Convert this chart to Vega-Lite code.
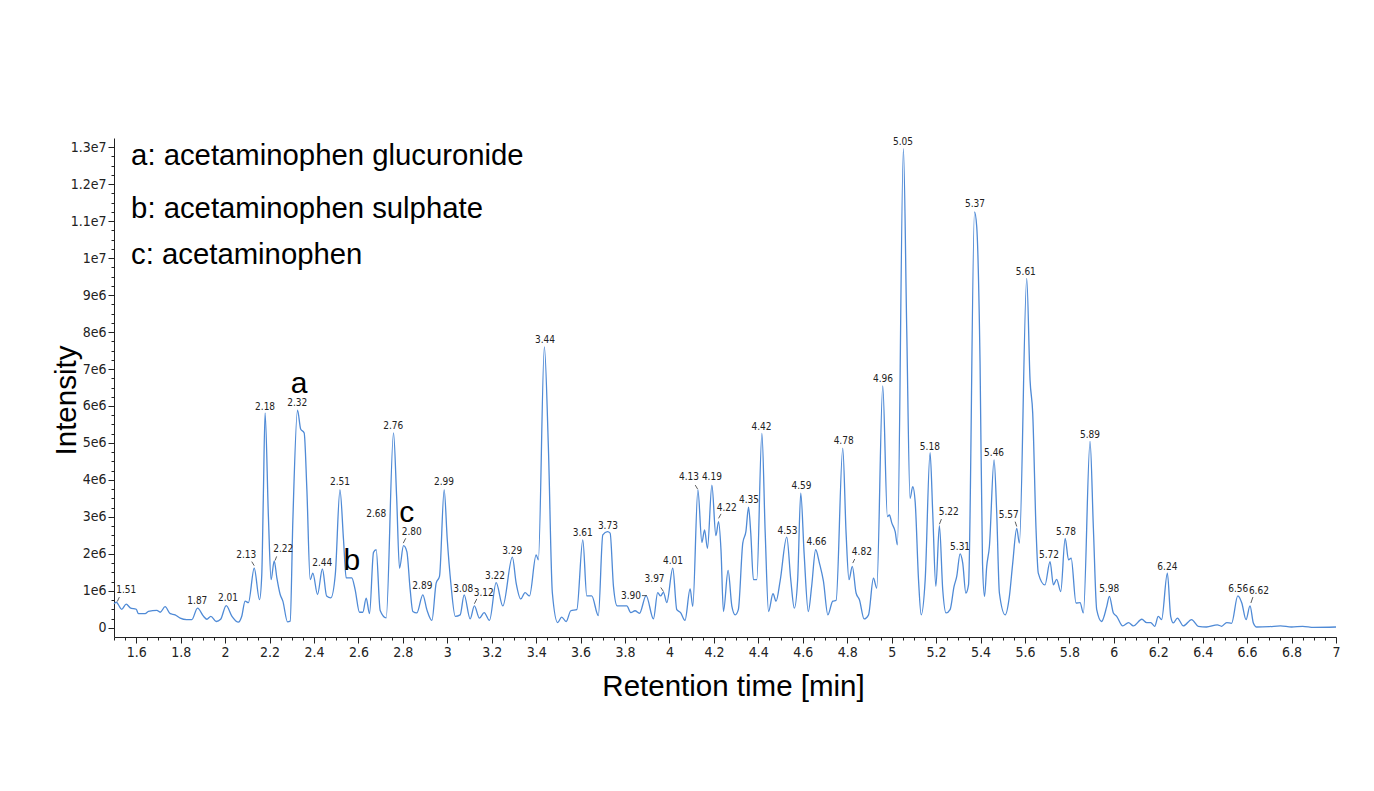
{
  "$schema": "https://vega.github.io/schema/vega-lite/v6.json",
  "width": 1222,
  "height": 499,
  "autosize": {"type": "none"},
  "padding": {"left": 114, "top": 138, "right": 38, "bottom": 154},
  "background": "white",
  "config": {"view": {"stroke": null}},
  "resolve": {"axis": {"x": "independent", "y": "independent"}},
  "datasets": {
    "trace": [
      {"t":1.5,"v":0.65e6},{"t":1.51,"v":0.69e6},{"t":1.535,"v":0.50e6},{"t":1.555,"v":0.64e6},{"t":1.573,"v":0.54e6},{"t":1.6,"v":0.50e6},{"t":1.61,"v":0.38e6},{"t":1.64,"v":0.38e6},{"t":1.655,"v":0.44e6},{"t":1.693,"v":0.47e6},{"t":1.708,"v":0.42e6},{"t":1.73,"v":0.57e6},{"t":1.753,"v":0.38e6},{"t":1.775,"v":0.35e6},{"t":1.798,"v":0.26e6},{"t":1.827,"v":0.22e6},{"t":1.85,"v":0.22e6},{"t":1.876,"v":0.53e6},{"t":1.903,"v":0.31e6},{"t":1.918,"v":0.23e6},{"t":1.936,"v":0.31e6},{"t":1.96,"v":0.17e6},{"t":1.98,"v":0.23e6},{"t":2.005,"v":0.60e6},{"t":2.031,"v":0.31e6},{"t":2.06,"v":0.15e6},{"t":2.075,"v":0.31e6},{"t":2.09,"v":0.72e6},{"t":2.105,"v":0.68e6},{"t":2.131,"v":1.61e6},{"t":2.155,"v":0.76e6},{"t":2.165,"v":1.42e6},{"t":2.172,"v":3.5e6},{"t":2.18,"v":5.81e6},{"t":2.195,"v":3.0e6},{"t":2.207,"v":1.30e6},{"t":2.221,"v":1.81e6},{"t":2.233,"v":1.35e6},{"t":2.248,"v":0.90e6},{"t":2.26,"v":0.72e6},{"t":2.281,"v":0.16e6},{"t":2.293,"v":0.18e6},{"t":2.305,"v":2.9e6},{"t":2.326,"v":5.89e6},{"t":2.34,"v":5.38e6},{"t":2.356,"v":5.27e6},{"t":2.368,"v":3.75e6},{"t":2.383,"v":1.3e6},{"t":2.395,"v":1.48e6},{"t":2.416,"v":0.90e6},{"t":2.438,"v":1.59e6},{"t":2.457,"v":0.86e6},{"t":2.476,"v":0.81e6},{"t":2.496,"v":1.44e6},{"t":2.517,"v":3.73e6},{"t":2.533,"v":2.38e6},{"t":2.545,"v":1.35e6},{"t":2.57,"v":1.35e6},{"t":2.585,"v":1.04e6},{"t":2.605,"v":0.42e6},{"t":2.62,"v":0.42e6},{"t":2.635,"v":0.80e6},{"t":2.65,"v":0.38e6},{"t":2.668,"v":2.04e6},{"t":2.68,"v":2.11e6},{"t":2.698,"v":0.47e6},{"t":2.725,"v":0.27e6},{"t":2.758,"v":5.27e6},{"t":2.772,"v":3.55e6},{"t":2.785,"v":1.61e6},{"t":2.803,"v":2.22e6},{"t":2.818,"v":2.06e6},{"t":2.833,"v":1.03e6},{"t":2.845,"v":0.44e6},{"t":2.863,"v":0.40e6},{"t":2.89,"v":0.89e6},{"t":2.908,"v":0.49e6},{"t":2.931,"v":0.20e6},{"t":2.95,"v":1.21e6},{"t":2.965,"v":1.39e6},{"t":2.986,"v":3.73e6},{"t":3.0,"v":2.38e6},{"t":3.016,"v":1.21e6},{"t":3.036,"v":0.31e6},{"t":3.058,"v":0.35e6},{"t":3.076,"v":0.89e6},{"t":3.103,"v":0.24e6},{"t":3.122,"v":0.59e6},{"t":3.145,"v":0.26e6},{"t":3.166,"v":0.41e6},{"t":3.19,"v":0.20e6},{"t":3.22,"v":1.22e6},{"t":3.25,"v":0.59e6},{"t":3.293,"v":1.91e6},{"t":3.31,"v":1.21e6},{"t":3.331,"v":0.78e6},{"t":3.35,"v":0.95e6},{"t":3.37,"v":0.86e6},{"t":3.4,"v":1.97e6},{"t":3.41,"v":1.84e6},{"t":3.437,"v":7.6e6},{"t":3.455,"v":4.9e6},{"t":3.473,"v":0.94e6},{"t":3.497,"v":0.14e6},{"t":3.515,"v":0.29e6},{"t":3.535,"v":0.17e6},{"t":3.556,"v":0.46e6},{"t":3.583,"v":0.49e6},{"t":3.61,"v":2.38e6},{"t":3.628,"v":0.86e6},{"t":3.65,"v":0.86e6},{"t":3.68,"v":0.33e6},{"t":3.7,"v":2.51e6},{"t":3.721,"v":2.60e6},{"t":3.733,"v":2.56e6},{"t":3.748,"v":1.12e6},{"t":3.765,"v":0.59e6},{"t":3.808,"v":0.59e6},{"t":3.826,"v":0.41e6},{"t":3.845,"v":0.46e6},{"t":3.865,"v":0.39e6},{"t":3.895,"v":0.87e6},{"t":3.928,"v":0.24e6},{"t":3.947,"v":0.95e6},{"t":3.96,"v":0.86e6},{"t":3.973,"v":0.96e6},{"t":3.988,"v":0.68e6},{"t":4.015,"v":1.61e6},{"t":4.033,"v":0.49e6},{"t":4.05,"v":0.41e6},{"t":4.07,"v":0.20e6},{"t":4.093,"v":1.05e6},{"t":4.105,"v":0.58e6},{"t":4.128,"v":3.73e6},{"t":4.146,"v":2.31e6},{"t":4.158,"v":2.65e6},{"t":4.171,"v":2.15e6},{"t":4.191,"v":3.86e6},{"t":4.209,"v":2.49e6},{"t":4.221,"v":2.87e6},{"t":4.232,"v":2.1e6},{"t":4.243,"v":0.44e6},{"t":4.264,"v":1.55e6},{"t":4.281,"v":0.58e6},{"t":4.296,"v":0.35e6},{"t":4.31,"v":0.49e6},{"t":4.33,"v":2.29e6},{"t":4.344,"v":2.6e6},{"t":4.356,"v":3.26e6},{"t":4.366,"v":2.56e6},{"t":4.378,"v":1.30e6},{"t":4.393,"v":1.30e6},{"t":4.416,"v":5.26e6},{"t":4.431,"v":2.56e6},{"t":4.446,"v":0.44e6},{"t":4.466,"v":0.92e6},{"t":4.48,"v":0.72e6},{"t":4.498,"v":1.26e6},{"t":4.528,"v":2.45e6},{"t":4.546,"v":1.3e6},{"t":4.562,"v":0.53e6},{"t":4.577,"v":1.3e6},{"t":4.591,"v":3.64e6},{"t":4.606,"v":2.02e6},{"t":4.625,"v":0.44e6},{"t":4.64,"v":1.12e6},{"t":4.658,"v":2.11e6},{"t":4.675,"v":1.75e6},{"t":4.693,"v":1.26e6},{"t":4.713,"v":0.35e6},{"t":4.735,"v":0.72e6},{"t":4.75,"v":0.74e6},{"t":4.78,"v":4.86e6},{"t":4.795,"v":2.56e6},{"t":4.808,"v":1.30e6},{"t":4.823,"v":1.66e6},{"t":4.84,"v":0.94e6},{"t":4.855,"v":0.76e6},{"t":4.876,"v":0.24e6},{"t":4.896,"v":0.35e6},{"t":4.918,"v":1.34e6},{"t":4.933,"v":1.07e6},{"t":4.96,"v":6.54e6},{"t":4.981,"v":3.01e6},{"t":4.99,"v":3.05e6},{"t":5.001,"v":2.83e6},{"t":5.016,"v":2.6e6},{"t":5.026,"v":2.24e6},{"t":5.053,"v":12.96e6},{"t":5.068,"v":8.05e6},{"t":5.083,"v":3.5e6},{"t":5.095,"v":3.82e6},{"t":5.106,"v":3.4e6},{"t":5.121,"v":1.30e6},{"t":5.133,"v":0.35e6},{"t":5.151,"v":1.30e6},{"t":5.173,"v":4.74e6},{"t":5.185,"v":3.1e6},{"t":5.199,"v":1.12e6},{"t":5.215,"v":2.76e6},{"t":5.23,"v":1.03e6},{"t":5.245,"v":0.40e6},{"t":5.263,"v":0.49e6},{"t":5.281,"v":1.12e6},{"t":5.293,"v":1.39e6},{"t":5.308,"v":2.0e6},{"t":5.32,"v":1.75e6},{"t":5.334,"v":0.94e6},{"t":5.346,"v":1.16e6},{"t":5.373,"v":11.25e6},{"t":5.383,"v":10.85e6},{"t":5.398,"v":7.15e6},{"t":5.409,"v":1.75e6},{"t":5.418,"v":0.85e6},{"t":5.428,"v":1.66e6},{"t":5.44,"v":2.2e6},{"t":5.461,"v":4.54e6},{"t":5.473,"v":3.1e6},{"t":5.485,"v":0.94e6},{"t":5.511,"v":0.35e6},{"t":5.53,"v":0.85e6},{"t":5.545,"v":1.75e6},{"t":5.563,"v":2.69e6},{"t":5.575,"v":2.29e6},{"t":5.608,"v":9.45e6},{"t":5.623,"v":6.7e6},{"t":5.635,"v":5.8e6},{"t":5.65,"v":2.65e6},{"t":5.66,"v":1.48e6},{"t":5.69,"v":1.16e6},{"t":5.713,"v":1.79e6},{"t":5.728,"v":1.16e6},{"t":5.743,"v":1.31e6},{"t":5.761,"v":0.98e6},{"t":5.781,"v":2.42e6},{"t":5.796,"v":1.84e6},{"t":5.808,"v":1.88e6},{"t":5.83,"v":0.67e6},{"t":5.848,"v":0.68e6},{"t":5.863,"v":0.40e6},{"t":5.893,"v":5.04e6},{"t":5.908,"v":2.7e6},{"t":5.923,"v":0.49e6},{"t":5.945,"v":0.17e6},{"t":5.968,"v":0.57e6},{"t":5.98,"v":0.85e6},{"t":5.998,"v":0.40e6},{"t":6.013,"v":0.31e6},{"t":6.04,"v":0.05e6},{"t":6.066,"v":0.14e6},{"t":6.088,"v":0.05e6},{"t":6.126,"v":0.23e6},{"t":6.148,"v":0.14e6},{"t":6.166,"v":0.14e6},{"t":6.184,"v":0.04e6},{"t":6.2,"v":0.31e6},{"t":6.215,"v":0.22e6},{"t":6.241,"v":1.48e6},{"t":6.256,"v":0.31e6},{"t":6.268,"v":0.13e6},{"t":6.286,"v":0.26e6},{"t":6.313,"v":0.05e6},{"t":6.35,"v":0.22e6},{"t":6.38,"v":0.04e6},{"t":6.417,"v":0.02e6},{"t":6.466,"v":0.08e6},{"t":6.485,"v":0.04e6},{"t":6.508,"v":0.14e6},{"t":6.53,"v":0.12e6},{"t":6.558,"v":0.86e6},{"t":6.576,"v":0.67e6},{"t":6.595,"v":0.22e6},{"t":6.613,"v":0.59e6},{"t":6.628,"v":0.13e6},{"t":6.643,"v":0.02e6},{"t":6.7,"v":0.03e6},{"t":6.75,"v":0.05e6},{"t":6.8,"v":0.02e6},{"t":6.85,"v":0.04e6},{"t":6.9,"v":0.01e6},{"t":7.0,"v":0.02e6}
    ],
    "peaks": [
      {"label":"1.51","lt":1.555,"lv":1.03e6},{"label":"1.87","lt":1.875,"lv":0.73e6},{"label":"2.01","lt":2.013,"lv":0.81e6},{"label":"2.13","lt":2.095,"lv":1.97e6},{"label":"2.18","lt":2.18,"lv":5.97e6},{"label":"2.22","lt":2.262,"lv":2.12e6},{"label":"2.32","lt":2.325,"lv":6.08e6},{"label":"2.44","lt":2.437,"lv":1.76e6},{"label":"2.51","lt":2.517,"lv":3.95e6},{"label":"2.68","lt":2.68,"lv":3.08e6},{"label":"2.76","lt":2.757,"lv":5.46e6},{"label":"2.80","lt":2.84,"lv":2.59e6},{"label":"2.89","lt":2.888,"lv":1.14e6},{"label":"2.99","lt":2.985,"lv":3.95e6},{"label":"3.08","lt":3.072,"lv":1.05e6},{"label":"3.12","lt":3.164,"lv":0.95e6},{"label":"3.22","lt":3.215,"lv":1.41e6},{"label":"3.29","lt":3.292,"lv":2.08e6},{"label":"3.44","lt":3.44,"lv":7.78e6},{"label":"3.61","lt":3.61,"lv":2.57e6},{"label":"3.73","lt":3.723,"lv":2.76e6},{"label":"3.90","lt":3.827,"lv":0.87e6},{"label":"3.97","lt":3.933,"lv":1.32e6},{"label":"4.01","lt":4.016,"lv":1.81e6},{"label":"4.13","lt":4.088,"lv":4.08e6},{"label":"4.19","lt":4.191,"lv":4.08e6},{"label":"4.22","lt":4.258,"lv":3.25e6},{"label":"4.35","lt":4.358,"lv":3.46e6},{"label":"4.42","lt":4.414,"lv":5.43e6},{"label":"4.53","lt":4.531,"lv":2.62e6},{"label":"4.59","lt":4.594,"lv":3.84e6},{"label":"4.66","lt":4.662,"lv":2.32e6},{"label":"4.78","lt":4.784,"lv":5.05e6},{"label":"4.82","lt":4.866,"lv":2.04e6},{"label":"4.96","lt":4.961,"lv":6.73e6},{"label":"5.05","lt":5.051,"lv":13.14e6},{"label":"5.18","lt":5.172,"lv":4.89e6},{"label":"5.22","lt":5.257,"lv":3.12e6},{"label":"5.31","lt":5.308,"lv":2.19e6},{"label":"5.37","lt":5.375,"lv":11.46e6},{"label":"5.46","lt":5.461,"lv":4.73e6},{"label":"5.57","lt":5.527,"lv":3.05e6},{"label":"5.61","lt":5.604,"lv":9.62e6},{"label":"5.72","lt":5.708,"lv":1.97e6},{"label":"5.78","lt":5.785,"lv":2.59e6},{"label":"5.89","lt":5.893,"lv":5.22e6},{"label":"5.98","lt":5.979,"lv":1.04e6},{"label":"6.24","lt":6.241,"lv":1.65e6},{"label":"6.56","lt":6.56,"lv":1.05e6},{"label":"6.62","lt":6.653,"lv":0.99e6}
    ],
    "leaders": [
      {"t1":1.515,"v1":0.71e6,"t2":1.524,"v2":0.83e6},{"t1":2.12,"v1":1.79e6,"t2":2.131,"v2":1.68e6},{"t1":2.225,"v1":1.82e6,"t2":2.232,"v2":1.93e6},{"t1":2.802,"v1":2.29e6,"t2":2.813,"v2":2.42e6},{"t1":3.122,"v1":0.65e6,"t2":3.133,"v2":0.78e6},{"t1":3.876,"v1":0.87e6,"t2":3.898,"v2":0.87e6},{"t1":3.961,"v1":1.09e6,"t2":3.973,"v2":0.98e6},{"t1":4.116,"v1":3.86e6,"t2":4.127,"v2":3.75e6},{"t1":4.221,"v1":2.96e6,"t2":4.232,"v2":3.08e6},{"t1":4.825,"v1":1.75e6,"t2":4.834,"v2":1.86e6},{"t1":5.215,"v1":2.8e6,"t2":5.224,"v2":2.94e6},{"t1":5.556,"v1":2.87e6,"t2":5.563,"v2":2.74e6},{"t1":6.617,"v1":0.67e6,"t2":6.626,"v2":0.83e6}
    ],
    "legendText": [
      {"text":"a: acetaminophen glucuronide","t":1.577,"v":12.53e6},
      {"text":"b: acetaminophen sulphate","t":1.577,"v":11.09e6},
      {"text":"c: acetaminophen","t":1.577,"v":9.83e6}
    ],
    "letters": [
      {"text":"a","t":2.333,"v":6.34e6},
      {"text":"b","t":2.571,"v":1.55e6},
      {"text":"c","t":2.818,"v":2.87e6}
    ]
  },
  "layer": [
    {
      "data": {"name": "trace"},
      "mark": {"type": "line", "color": "#4f8ad6", "strokeWidth": 1.3, "interpolate": "monotone"},
      "encoding": {
        "x": {
          "field": "t", "type": "quantitative",
          "scale": {"domain": [1.5, 7], "nice": false, "zero": false},
          "axis": {
            "orient": "bottom",
            "title": "Retention time [min]",
            "titleFont": "Liberation Sans", "titleFontSize": 29.5, "titleFontWeight": "normal", "titleColor": "black",
            "titleX": 619, "titleY": 49, "titleBaseline": "middle", "titleAlign": "center", "titleAnchor": null,
            "values": [1.6,1.8,2,2.2,2.4,2.6,2.8,3,3.2,3.4,3.6,3.8,4,4.2,4.4,4.6,4.8,5,5.2,5.4,5.6,5.8,6,6.2,6.4,6.6,6.8,7],
            "format": "~g",
            "tickSize": 6,
            "labelFont": "'DejaVu Sans Condensed', 'Liberation Sans'", "labelFontSize": 14, "labelColor": "#222",
            "labelPadding": 2, "labelOverlap": false, "labelFlush": false,
            "domainColor": "#222", "tickColor": "#222", "grid": false
          }
        },
        "y": {
          "field": "v", "type": "quantitative",
          "scale": {"domain": [-250000, 13250000], "nice": false, "zero": false},
          "axis": {
            "orient": "left",
            "title": "Intensity",
            "titleFont": "Liberation Sans", "titleFontSize": 29.5, "titleFontWeight": "normal", "titleColor": "black",
            "titleX": -48, "titleY": 262, "titleBaseline": "middle", "titleAlign": "center", "titleAngle": 270, "titleAnchor": null,
            "values": [0,1000000,2000000,3000000,4000000,5000000,6000000,7000000,8000000,9000000,10000000,11000000,12000000,13000000],
            "labelExpr": "datum.value == 0 ? '0' : replace(format(datum.value, '.2~e'), 'e+', 'e')",
            "tickSize": 6,
            "labelFont": "'DejaVu Sans Condensed', 'Liberation Sans'", "labelFontSize": 14, "labelColor": "#222",
            "labelPadding": 2, "labelOverlap": false, "labelFlush": false,
            "domainColor": "#222", "tickColor": "#222", "grid": false
          }
        }
      }
    },
    {
      "data": {"name": "leaders"},
      "mark": {"type": "rule", "color": "#333", "strokeWidth": 0.8},
      "encoding": {
        "x": {
          "field": "t1", "type": "quantitative",
          "axis": {
            "orient": "bottom", "title": null, "labels": false, "domain": false, "grid": false,
            "tickSize": 3, "tickColor": "#222",
            "values": [1.5,1.55,1.6,1.65,1.7,1.75,1.8,1.85,1.9,1.95,2,2.05,2.1,2.15,2.2,2.25,2.3,2.35,2.4,2.45,2.5,2.55,2.6,2.65,2.7,2.75,2.8,2.85,2.9,2.95,3,3.05,3.1,3.15,3.2,3.25,3.3,3.35,3.4,3.45,3.5,3.55,3.6,3.65,3.7,3.75,3.8,3.85,3.9,3.95,4,4.05,4.1,4.15,4.2,4.25,4.3,4.35,4.4,4.45,4.5,4.55,4.6,4.65,4.7,4.75,4.8,4.85,4.9,4.95,5,5.05,5.1,5.15,5.2,5.25,5.3,5.35,5.4,5.45,5.5,5.55,5.6,5.65,5.7,5.75,5.8,5.85,5.9,5.95,6,6.05,6.1,6.15,6.2,6.25,6.3,6.35,6.4,6.45,6.5,6.55,6.6,6.65,6.7,6.75,6.8,6.85,6.9,6.95,7]
          }
        },
        "x2": {"field": "t2"},
        "y": {
          "field": "v1", "type": "quantitative",
          "axis": {
            "orient": "left", "title": null, "labels": false, "domain": false, "grid": false,
            "tickSize": 3, "tickColor": "#222",
            "values": [0,250000,500000,750000,1000000,1250000,1500000,1750000,2000000,2250000,2500000,2750000,3000000,3250000,3500000,3750000,4000000,4250000,4500000,4750000,5000000,5250000,5500000,5750000,6000000,6250000,6500000,6750000,7000000,7250000,7500000,7750000,8000000,8250000,8500000,8750000,9000000,9250000,9500000,9750000,10000000,10250000,10500000,10750000,11000000,11250000,11500000,11750000,12000000,12250000,12500000,12750000,13000000]
          }
        },
        "y2": {"field": "v2"}
      }
    },
    {
      "data": {"name": "peaks"},
      "mark": {"type": "text", "font": "'DejaVu Sans Condensed', 'Liberation Sans'", "fontSize": 10, "color": "#222", "baseline": "middle", "align": "center"},
      "encoding": {
        "x": {"field": "lt", "type": "quantitative", "axis": null},
        "y": {"field": "lv", "type": "quantitative", "axis": null},
        "text": {"field": "label"}
      }
    },
    {
      "data": {"name": "legendText"},
      "mark": {"type": "text", "font": "Liberation Sans", "fontSize": 29.3, "color": "black", "baseline": "alphabetic", "align": "left"},
      "encoding": {
        "x": {"field": "t", "type": "quantitative", "axis": null},
        "y": {"field": "v", "type": "quantitative", "axis": null},
        "text": {"field": "text"}
      }
    },
    {
      "data": {"name": "letters"},
      "mark": {"type": "text", "font": "Liberation Sans", "fontSize": 30, "color": "black", "baseline": "alphabetic", "align": "center"},
      "encoding": {
        "x": {"field": "t", "type": "quantitative", "axis": null},
        "y": {"field": "v", "type": "quantitative", "axis": null},
        "text": {"field": "text"}
      }
    }
  ]
}
